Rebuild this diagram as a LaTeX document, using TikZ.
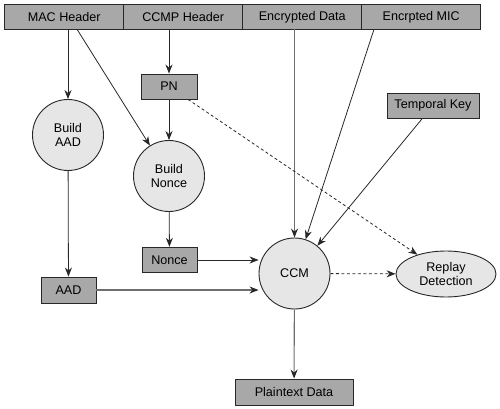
\documentclass[tikz,border=0pt]{standalone}
\usepackage{fontspec}
\setmainfont{Liberation Sans}
\usetikzlibrary{arrows.meta,shapes.geometric}
\definecolor{boxfill}{RGB}{168,168,168}
\definecolor{circfill}{RGB}{230,230,230}
\definecolor{edge}{RGB}{40,40,40}
\definecolor{grayline}{RGB}{110,110,110}
\tikzset{
  every node/.style={font=\fontsize{12.6}{14}\selectfont, text=black},
  boxnode/.style={draw=edge, line width=0.9pt, fill=boxfill, inner sep=0pt},
  topcell/.style={boxnode, minimum width=119pt, minimum height=24.5pt},
  circnode/.style={draw=edge, line width=0.9pt, fill=circfill, circle, minimum size=71pt, inner sep=0pt, align=center},
  ellnode/.style={draw=edge, line width=0.9pt, fill=circfill, ellipse, minimum width=100pt, minimum height=46pt, inner sep=0pt, align=center},
  conn/.style={draw=edge, line width=0.8pt, -{Stealth[length=9pt,width=7pt]}},
  gconn/.style={draw=grayline, line width=1.1pt, -{Stealth[length=9pt,width=7pt,color=edge]}},
  dconn/.style={conn, dashed, dash pattern=on 3pt off 2.5pt}
}
\begin{document}
\begin{tikzpicture}[x=1pt,y=-1pt]
\useasboundingbox (0,0) rectangle (500,409);
% top bar
\node[topcell] (mac) at (64.25,17) {MAC Header};
\node[topcell] (ccmp) at (183.25,17) {CCMP Header};
\node[topcell] (enc) at (302.25,17) {Encrypted Data};
\node[topcell] (mic) at (421.25,17) {Encrpted MIC};
% boxes
\node[boxnode, minimum width=56pt, minimum height=25pt] (pn) at (169,86.5) {PN};
\node[boxnode, minimum width=55pt, minimum height=25.5pt] (nonce) at (169.5,260) {Nonce};
\node[boxnode, minimum width=55pt, minimum height=26pt] (aad) at (68.5,290) {AAD};
\node[boxnode, minimum width=92pt, minimum height=25pt] (tk) at (433,105.5) {Temporal Key};
\node[boxnode, minimum width=118pt, minimum height=26pt] (plain) at (294,392) {Plaintext Data};
% circles
\node[circnode] (baad) at (68,135) {Build\\AAD};
\node[circnode] (bnonce) at (169,176) {Build\\Nonce};
\node[circnode] (ccm) at (294.5,273.5) {CCM};
\node[ellnode] (replay) at (446,274) {Replay\\Detection};
% helper coordinates on the top bar
\coordinate (macA) at (68,29.25);
\coordinate (macB) at (77,29.25);
\coordinate (ccmpA) at (169,29.25);
\coordinate (encA) at (294.5,29.25);
\coordinate (micA) at (374,29.25);
% connectors
\draw[conn] (macA) -- (baad);
\draw[conn] (macB) -- (bnonce);
\draw[conn] (ccmpA) -- (pn);
\draw[conn] (pn) -- (bnonce);
\draw[conn] (bnonce) -- (nonce);
\draw[conn] (baad) -- (aad);
\draw[conn] (nonce.east) -- (ccm.west |- nonce.east);
\draw[gconn] (aad.east) -- (ccm.west |- aad.east);
\draw[gconn] (encA) -- (ccm);
\draw[conn] (micA) -- (ccm);
\draw[conn] (tk) -- (ccm);
\draw[dconn] (pn) -- (replay);
\draw[dconn] (ccm) -- (replay);
\draw[gconn] (ccm) -- (plain);
\end{tikzpicture}
\end{document}
